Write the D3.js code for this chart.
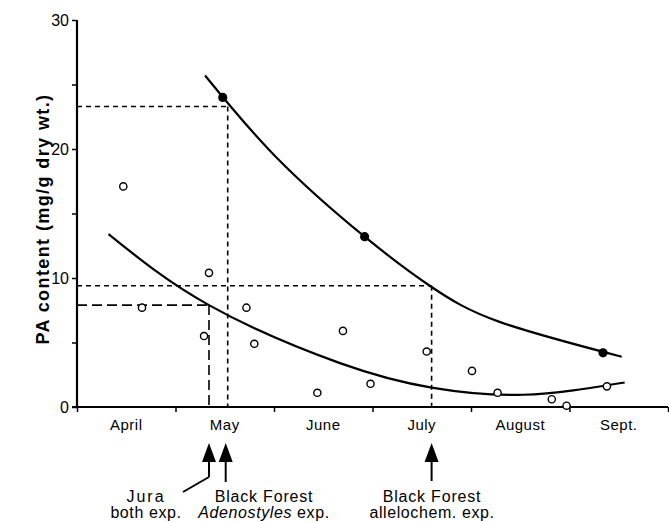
<!DOCTYPE html>
<html><head><meta charset="utf-8">
<script src="https://cdn.jsdelivr.net/npm/d3@7"></script>
<style>
body{margin:0;background:#fff;}
svg{display:block;font-family:"Liberation Sans",Arial,Helvetica,sans-serif;}
</style></head>
<body><svg id="c" width="669" height="522"></svg>
<script>
// ---- data (x in months since 1 April, y in mg/g dry wt.) ----
const months = ["April","May","June","July","August","Sept."];
const yTicks = [0,5,10,15,20,25,30];
const yLabels = [0,10,20,30];
const openX = [0.47,0.66,1.29,1.34,1.72,1.80,2.44,2.70,2.98,3.55,4.01,4.27,4.82,4.97,5.38];
const openY = [17.1,7.7,5.5,10.4,7.7,4.9,1.1,5.9,1.8,4.3,2.8,1.1,0.6,0.1,1.6];
const filledX = [1.48,2.92,5.34];
const filledY = [24.0,13.2,4.2];
const upperCurveX = [1.30,2.03,2.92,3.60,4.29,5.53];
const upperCurveY = [25.7,19.3,13.2,9.3,6.6,3.9];
const lowerCurveX = [0.32,1.34,2.67,3.60,4.53,5.56];
const lowerCurveY = [13.4,7.9,3.4,1.5,0.95,1.9];
const refX = [1.34,1.53,3.60];
const refY = [7.9,23.3,9.4];
const refLong = [true,false,false];
const noteLine1 = ["Jura","Black Forest","Black Forest"];
const noteLine2 = [["both exp.",""],["Adenostyles"," exp."],["allelochem. exp.",""]];

const svg = d3.select("#c");
const x = d3.scaleLinear().domain([0,6]).range([77,668]);
const y = d3.scaleLinear().domain([0,30]).range([407,20]);

// reference dashed lines
refX.forEach((rx,i)=>{
  const dash = refLong[i] ? "10,5" : "5,4";
  svg.append("line").attr("x1",x(0)).attr("x2",x(rx)).attr("y1",y(refY[i])).attr("y2",y(refY[i]))
    .attr("stroke","#000").attr("stroke-width",1.6).attr("stroke-dasharray",dash);
  svg.append("line").attr("x1",x(rx)).attr("x2",x(rx)).attr("y1",y(refY[i])).attr("y2",y(0))
    .attr("stroke","#000").attr("stroke-width",1.6).attr("stroke-dasharray",dash);
});

// curves
const line = d3.line().x(d=>x(d[0])).y(d=>y(d[1])).curve(d3.curveNatural);
svg.append("path").datum(upperCurveX.map((v,i)=>[v,upperCurveY[i]]))
  .attr("d",line).attr("fill","none").attr("stroke","#000").attr("stroke-width",2.2);
svg.append("path").datum(lowerCurveX.map((v,i)=>[v,lowerCurveY[i]]))
  .attr("d",line).attr("fill","none").attr("stroke","#000").attr("stroke-width",2.2);

// axes
const yAxis = d3.axisLeft(y).tickValues(yTicks).tickSize(5)
  .tickFormat(d=>yLabels.includes(d)?d:"");
const gy = svg.append("g").attr("transform",`translate(${x(0)},0)`).call(yAxis);
gy.select(".domain").attr("stroke-width",2.2).attr("d",`M0,${y(30)}V${y(0)}`);
gy.selectAll(".tick line").attr("stroke-width",1.5);
gy.selectAll(".tick text").attr("font-size",16).attr("font-family","Liberation Sans, Arial, sans-serif").attr("x",-8).attr("fill","#000");

const xAxis = d3.axisBottom(x).tickValues(d3.range(0,7)).tickSize(5).tickFormat("");
const gx = svg.append("g").attr("transform",`translate(0,${y(0)})`).call(xAxis);
gx.select(".domain").attr("stroke-width",2.2).attr("d",`M${x(0)-5},0H${x(6)}`);
gx.selectAll(".tick line").attr("stroke-width",1.5);

svg.append("g").selectAll("text").data(months).join("text")
  .attr("x",(d,i)=>x(i+0.5)).attr("y",430).attr("text-anchor","middle")
  .attr("font-size",15).attr("letter-spacing",0.5).text(d=>d);

svg.append("text").attr("transform","translate(49,219) rotate(-90)")
  .attr("text-anchor","middle").attr("font-size",18).attr("font-weight","bold")
  .attr("letter-spacing",1.4).text("PA content (mg/g dry wt.)");

// points
svg.append("g").selectAll("circle").data(openX).join("circle")
  .attr("cx",d=>x(d)).attr("cy",(d,i)=>y(openY[i])).attr("r",3.6)
  .attr("fill","#fff").attr("stroke","#000").attr("stroke-width",1.4);
svg.append("g").selectAll("circle").data(filledX).join("circle")
  .attr("cx",d=>x(d)).attr("cy",(d,i)=>y(filledY[i])).attr("r",4.6)
  .attr("fill","#000");

// arrows
const tipY = 443, headH = 19, headW = 7;
const arrowX = [x(refX[0]), x(refX[1]) - 2, x(refX[2])];
const shaftEnd = [477, 482, 481];
arrowX.forEach((ax,i)=>{
  svg.append("path").attr("d",`M${ax},${tipY}L${ax-headW},${tipY+headH}L${ax+headW},${tipY+headH}Z`).attr("fill","#000");
  svg.append("line").attr("x1",ax).attr("x2",ax).attr("y1",tipY+headH-1).attr("y2",shaftEnd[i])
    .attr("stroke","#000").attr("stroke-width",2);
});
svg.append("line").attr("x1",arrowX[0]).attr("y1",shaftEnd[0]).attr("x2",183).attr("y2",492)
  .attr("stroke","#000").attr("stroke-width",2);

// notes
const noteX = [146, 264, 432];
noteX.forEach((nx,i)=>{
  svg.append("text").attr("x",nx).attr("y",502).attr("text-anchor","middle")
    .attr("font-size",16).attr("letter-spacing", i===0?2:0.8).text(noteLine1[i]);
  const t = svg.append("text").attr("x",nx).attr("y",518).attr("text-anchor","middle")
    .attr("font-size",16).attr("letter-spacing",0.6);
  if(noteLine2[i][1]){
    t.append("tspan").attr("font-style","italic").text(noteLine2[i][0]);
    t.append("tspan").text(noteLine2[i][1]);
  } else t.text(noteLine2[i][0]);
});
</script></body></html>
